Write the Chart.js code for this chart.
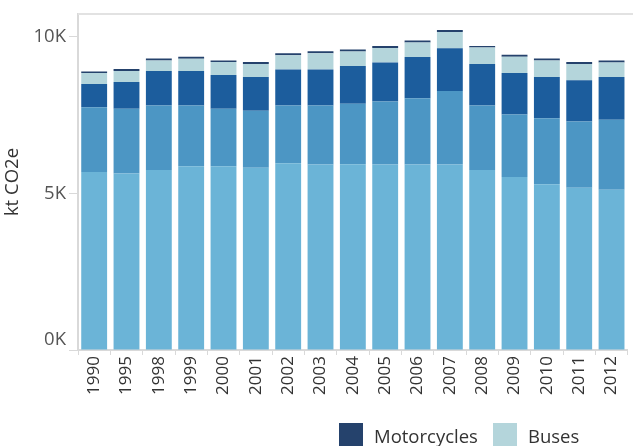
<!DOCTYPE html>
<html>
<head>
<meta charset="utf-8">
<script src="https://cdn.jsdelivr.net/npm/chart.js"></script>
<style>
html,body{margin:0;padding:0;width:633px;height:446px;overflow:hidden;background:#fff}
#tray{position:relative;width:633px;height:446px}
#legend{position:absolute;left:339px;top:423px;display:grid;grid-template-columns:154px 154px;row-gap:8px;font-family:"Open Sans",sans-serif;font-size:18.5px;color:#333}
#legend .item{display:flex;align-items:center;height:24px;white-space:nowrap}
#legend .box{width:24px;height:24px;margin-right:11px;flex:none}
</style>
</head>
<body>
<div id="tray">
    <canvas id="canvas"></canvas>
    <div id="legend"></div>
</div>
<script>
// road transport emissions, kt CO2e, stacked bottom to top
const years = ['1990','1995','1998','1999','2000','2001','2002','2003','2004','2005','2006','2007','2008','2009','2010','2011','2012'];
const cars = [5683,5641,5746,5873,5873,5819,5968,5926,5930,5922,5928,5925,5746,5524,5291,5185,5121];
const lightTrucks = [2073,2064,2064,1937,1832,1822,1842,1884,1933,2015,2113,2351,2064,2000,2115,2117,2234];
const heavyTrucks = [742,857,1101,1101,1079,1080,1152,1152,1207,1247,1315,1365,1323,1324,1315,1311,1366];
const buses = [350,349,337,391,413,412,457,521,463,467,463,518,527,517,527,520,463];
const motorcycles = [50,64,63,63,51,64,64,63,64,63,64,63,54,64,63,64,64];
const yTicks = [0,5000,10000];
const yMax = 10730;

const series = [
    {label:'Cars', data:cars, color:'#6bb4d7'},
    {label:'Light trucks', data:lightTrucks, color:'#4c96c4'},
    {label:'Heavy trucks', data:heavyTrucks, color:'#1c5d9d'},
    {label:'Buses', data:buses, color:'#b4d5db'},
    {label:'Motorcycles', data:motorcycles, color:'#25426c'}
];

const lineColor = '#d9d9d9';
const font = size => ({family:'"Open Sans", sans-serif', size:size});

// top frame line, and keep the 0K label clear of the x axis
const frame = {
    id:'frame',
    beforeDraw(chart) {
        let y = chart.scales.y;
        for (let item of y.getLabelItems(chart.chartArea)) {
            if (item.label === '0K' && !item.moved) {
                item.options.translation[1] -= 10;
                item.moved = true;
            }
        }
    },
    afterDraw(chart) {
        let {ctx, chartArea} = chart;
        ctx.save();
        ctx.strokeStyle = '#e2e2e2';
        ctx.lineWidth = 2;
        ctx.beginPath();
        ctx.moveTo(chartArea.left, chartArea.top);
        ctx.lineTo(chart.width, chartArea.top);
        ctx.stroke();
        ctx.restore();
    }
};

let chart = new Chart(document.getElementById('canvas').getContext('2d'), {
    type:'bar',
    data:{
        labels:years,
        datasets:series.map(s=>({
            label:s.label,
            data:s.data,
            backgroundColor:s.color,
            borderWidth:0,
            barPercentage:0.8,
            categoryPercentage:1
        }))
    },
    options:{
        responsive:true,
        maintainAspectRatio:false,
        animation:false,
        layout:{padding:{top:12,right:2,bottom:0,left:0}},
        plugins:{legend:{display:false}, tooltip:{enabled:false}},
        scales:{
            x:{
                stacked:true,
                grid:{offset:true, drawOnChartArea:false, tickLength:5, color:lineColor},
                border:{color:lineColor, width:2},
                ticks:{minRotation:90, maxRotation:90, autoSkip:false, padding:1, font:font(17), color:'#333'},
                afterFit:s=>{ s.height = 96; }
            },
            y:{
                stacked:true,
                min:0,
                max:yMax,
                afterBuildTicks:s=>{ s.ticks = yTicks.map(v=>({value:v})); },
                afterFit:s=>{ s.width = 78; },
                grid:{drawOnChartArea:false, tickLength:9, color:lineColor},
                border:{color:lineColor, width:2},
                ticks:{callback:v=>(v/1000)+'K', padding:3, font:font(18.5), color:'#555'},
                title:{display:true, text:'kt CO2e', font:font(18.5), color:'#333', padding:{top:2,bottom:0}}
            }
        }
    },
    plugins:[frame]
});

// legend lists the top of the stack first
let legend = document.getElementById('legend');
for (let item of chart.options.plugins.legend.labels.generateLabels(chart).reverse()) {
    let el = document.createElement('div');
    el.className = 'item';
    let box = document.createElement('span');
    box.className = 'box';
    box.style.background = item.fillStyle;
    el.appendChild(box);
    el.appendChild(document.createTextNode(item.text));
    legend.appendChild(el);
}
</script>
</body>
</html>
